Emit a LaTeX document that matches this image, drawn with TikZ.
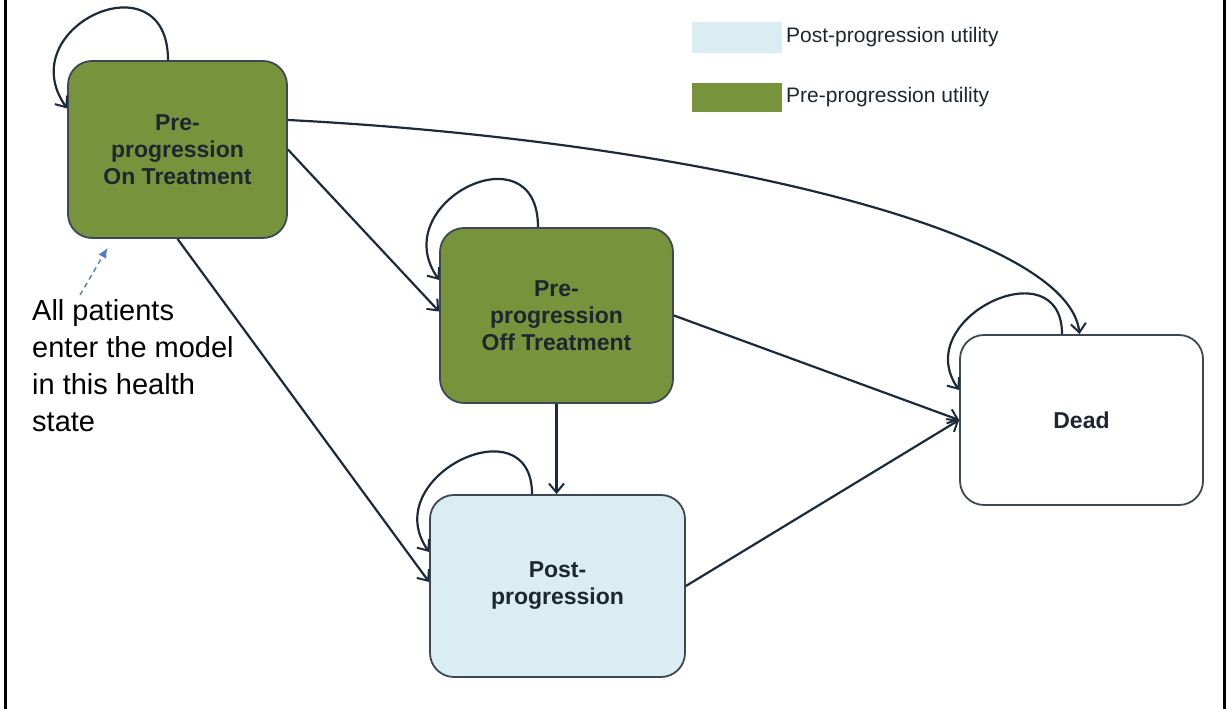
\documentclass[tikz,border=0pt]{standalone}
\usepackage{fontspec}
\setmainfont{Liberation Sans}
\usetikzlibrary{arrows.meta}
\definecolor{stategreen}{HTML}{77933C}
\definecolor{stateblue}{HTML}{DAEDF3}
\definecolor{stateline}{HTML}{3E4852}
\definecolor{edgeink}{HTML}{1C2A3A}
\definecolor{entryblue}{HTML}{4F81BD}
\definecolor{labelink}{HTML}{1E2630}
\tikzset{
  state/.style={draw=stateline, line width=1.8pt, rounded corners=24pt,
    align=center, text=labelink, inner sep=0pt,
    font=\fontsize{23}{27}\selectfont\bfseries},
  flow/.style={draw=edgeink, line width=2.2pt,
    -{Straight Barb[length=9pt,width=15pt,line width=2pt]}},
  selfloop/.style={flow},
  legendbox/.style={draw=none, inner sep=0pt},
  legendtext/.style={anchor=west, inner sep=0pt, text=labelink,
    font=\fontsize{21}{24}\selectfont},
}
\begin{document}
\begin{tikzpicture}[x=1pt, y=1pt]
  \useasboundingbox (0,0) rectangle (1231,709);
  % outer frame
  \draw[line width=3pt, black] (5,-5) -- (5,714);
  \draw[line width=3pt, black] (1224,-5) -- (1224,714);

  % health states
  \node[state, fill=stategreen, minimum width=219pt, minimum height=177pt]
    (A) at (177.5,559.5) {Pre-\\progression\\On Treatment};
  \node[state, fill=stategreen, minimum width=233pt, minimum height=175pt]
    (B) at (556.5,393.5) {Pre-\\progression\\Off Treatment};
  \node[state, fill=stateblue, minimum width=255pt, minimum height=182pt]
    (C) at (557.5,123) {Post-\\progression};
  \node[state, fill=white, minimum width=243pt, minimum height=170pt]
    (D) at (1081.5,289) {Dead};

  % legend
  \node[legendbox, fill=stateblue, minimum width=90pt, minimum height=31pt]
    (L1) at (737,671.5) {};
  \node[legendbox, fill=stategreen, minimum width=90pt, minimum height=29pt]
    (L2) at (737,611.5) {};
  \node[legendtext] (T1) at (786,671.5) {Post-progression utility};
  \node[legendtext] (T2) at (786,611.5) {Pre-progression utility};

  % entry note
  \node[anchor=north west, inner sep=0pt, align=left,
    font=\fontsize{29}{37}\selectfont, text=black]
    (note) at (32,410) {All patients\\enter the model\\in this health\\state};
  \coordinate (entrytail) at (80,414);
  \draw[entryblue, line width=1.4pt, dash pattern=on 5pt off 4pt,
    -{Latex[length=10pt,width=9pt]}]
    (entrytail) -- ([xshift=-70pt,yshift=-9pt]A.south);

  % transitions
  \draw[flow] (A.east) -- ([yshift=4pt]B.west);
  \draw[flow] (A.south) -- ([yshift=4pt]C.west);
  \draw[flow] ([yshift=29.5pt]A.east)
    .. controls (680,569) and (1068,481) .. ([xshift=-2pt]D.north);
  \draw[flow] (B.east) -- (D.west);
  \draw[flow] (B.south) -- (B.south |- C.north);
  \draw[flow] (C.east) -- (D.west);

  % self transitions
  \draw[selfloop] ([xshift=-9.5pt]A.north)
    .. controls +(90:105) and +(125:100) .. ([yshift=41pt]A.west);
  \draw[selfloop] ([xshift=-18.5pt]B.north)
    .. controls +(90:100) and +(125:95) .. ([yshift=35.5pt]B.west);
  \draw[selfloop] ([xshift=-25.5pt]C.north)
    .. controls +(90:92) and +(125:92) .. ([yshift=34pt]C.west);
  \draw[selfloop] ([xshift=-19.5pt]D.north)
    .. controls +(90:88) and +(125:88) .. ([yshift=30pt]D.west);
\end{tikzpicture}
\end{document}
